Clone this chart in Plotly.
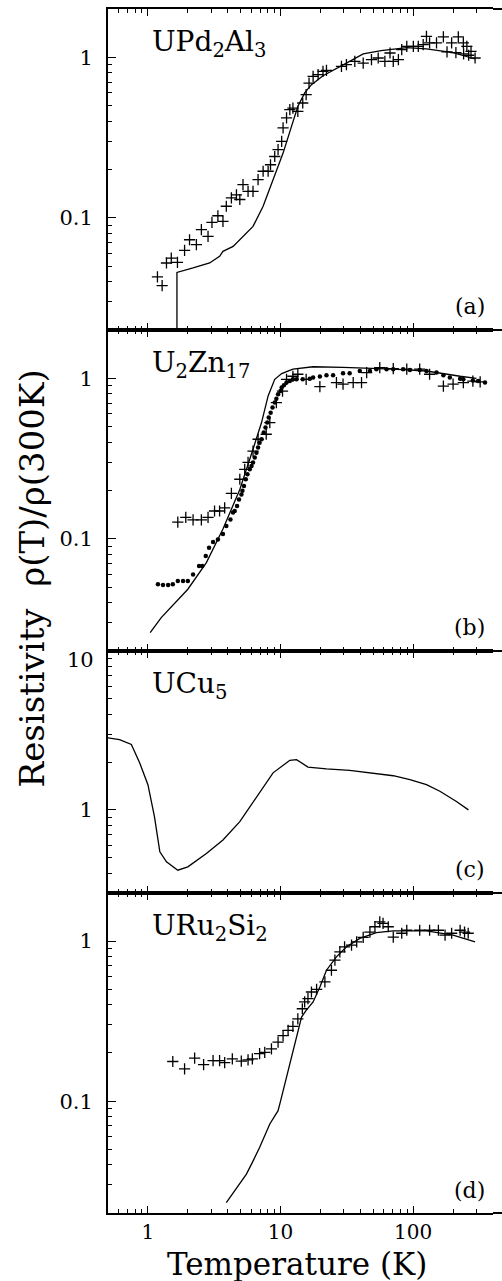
import plotly.graph_objects as go

# ---------------- data ----------------
# (a) UPd2Al3
a_pts_T = [1.18, 1.28, 1.38, 1.50, 1.67, 1.89, 2.06, 2.32, 2.53, 2.84, 3.04, 3.37, 3.68, 3.90, 4.26,
           4.65, 4.93, 5.21, 5.69, 6.20, 6.77, 7.39, 8.06, 8.4, 9.04, 9.58, 10.2, 10.45, 11.1, 11.75,
           12.4, 13.5, 14.7, 15.6, 16.4, 17.6, 19.2, 20.9, 22.2, 28.8, 31.4, 36.3, 42.0, 48.5, 54.5,
           61.2, 66.9, 70.8, 77.4, 82.0, 89.5, 100.3, 109.3, 119, 126, 133, 150, 169, 195, 219,
           239, 254, 273, 293, 180, 210, 240, 262]
a_pts_r = [0.0428, 0.0378, 0.0523, 0.056, 0.0528, 0.0626, 0.073, 0.068, 0.0843, 0.0766, 0.0936, 0.103,
           0.095, 0.118, 0.133, 0.139, 0.13, 0.161, 0.146, 0.146, 0.173, 0.195, 0.195, 0.214, 0.241,
           0.266, 0.299, 0.363, 0.419, 0.472, 0.483, 0.46, 0.519, 0.585, 0.69, 0.76, 0.78, 0.817, 0.83,
           0.877, 0.9, 0.943, 0.921, 0.966, 0.99, 0.943, 1.064, 0.943, 0.966, 1.115, 1.17, 1.17, 1.17,
           1.198, 1.35, 1.23, 1.23, 1.34, 1.23, 1.34, 1.23, 1.17, 1.09, 0.99, 1.08, 1.07, 1.05, 1.03]
a_fit_T = [1.655, 1.655, 2.19, 2.92, 3.47, 3.68, 4.39, 5.21, 6.20, 7.39, 8.78, 10.45, 12.1, 13.5, 15.2,
           17.1, 20.9, 26.4, 33.2, 42.0, 57.3, 89.5, 126, 200, 293]
a_fit_r = [0.019, 0.0457, 0.0487, 0.0523, 0.0575, 0.0618, 0.0664, 0.0766, 0.0884, 0.118, 0.173, 0.253,
           0.371, 0.494, 0.60, 0.675, 0.768, 0.857, 0.943, 1.05, 1.10, 1.15, 1.13, 1.07, 0.976]

# (b) U2Zn17
b_pts_T = [1.68, 1.93, 2.19, 2.53, 2.84, 3.18, 3.47, 3.79, 4.26, 4.93, 5.37, 5.69, 6.2, 6.77, 7.8, 8.3,
           9.3, 10.35, 11.1, 12.4, 13.5, 15.6, 19.8, 26.4, 29.6, 35.3, 40.8, 44.6, 56.0, 70.8, 89.5,
           112, 133, 169, 200, 239, 282, 320]
b_pts_r = [0.127, 0.136, 0.131, 0.131, 0.136, 0.149, 0.149, 0.156, 0.192, 0.235, 0.271, 0.299, 0.352,
           0.417, 0.448, 0.53, 0.706, 0.833, 0.986, 1.03, 1.06, 0.986, 0.888, 0.94, 0.92, 0.94, 0.94,
           1.085, 1.166, 1.15, 1.14, 1.14, 1.06, 0.895, 0.92, 0.94, 0.96, 0.95]
b_dots_T = [1.19, 1.30, 1.42, 1.54, 1.68, 1.84, 2.0, 2.19, 2.43, 2.57, 2.73, 2.89, 3.1, 3.37, 3.68,
            3.9, 4.19, 4.38, 4.51, 4.70, 4.86, 5.07, 5.16, 5.30, 5.47, 5.63, 5.86, 6.04, 6.2, 6.39,
            6.58, 6.77, 6.95, 7.19, 7.47, 7.70, 7.94, 8.14, 8.42, 8.7, 9.04, 9.3, 9.58, 10.0, 10.2,
            10.6, 11.1, 11.75, 12.4, 13.2, 14.7, 16.6, 17.6, 19.8, 22.2, 24.9, 29.6, 33.2, 39.6, 47.2,
            52.8, 63.0, 70.8, 84.1, 94.5, 112, 126, 150, 169, 189, 226, 239, 282, 309, 348]
b_dots_r = [0.052, 0.0515, 0.0515, 0.052, 0.0546, 0.0546, 0.0546, 0.060, 0.0677, 0.0677, 0.078, 0.088,
            0.0955, 0.099, 0.107, 0.120, 0.132, 0.146, 0.149, 0.160, 0.176, 0.189, 0.199, 0.213, 0.235,
            0.252, 0.271, 0.284, 0.299, 0.321, 0.344, 0.370, 0.397, 0.417, 0.459, 0.493, 0.53, 0.569,
            0.611, 0.657, 0.706, 0.747, 0.795, 0.834, 0.875, 0.905, 0.94, 0.962, 0.986, 0.986, 0.986,
            0.995, 1.01, 1.025, 1.045, 1.044, 1.074, 1.074, 1.11, 1.11, 1.14, 1.14, 1.14, 1.14, 1.125,
            1.126, 1.11, 1.085, 1.045, 1.01, 0.995, 0.986, 0.97, 0.962, 0.94]
b_fit_T = [1.04, 1.26, 2.0, 2.76, 3.68, 4.93, 6.2, 7.19, 8.06, 9.04, 10.2, 12.4, 17.6, 29.6, 70.8, 126,
           226, 300]
b_fit_r = [0.026, 0.0323, 0.0485, 0.0711, 0.115, 0.203, 0.361, 0.53, 0.776, 0.986, 1.07, 1.14, 1.18,
           1.17, 1.14, 1.11, 1.03, 1.0]

# (c) UCu5
c_fit_T = [0.494, 0.611, 0.75, 0.866, 1.0, 1.12, 1.23, 1.38, 1.68, 2.0, 2.76, 3.68, 4.93, 6.58, 8.78,
           11.75, 13.2, 16.1, 22.2, 33.2, 50, 70.8, 94.5, 126, 159, 212, 261]
c_fit_r = [2.84, 2.77, 2.58, 1.98, 1.44, 0.907, 0.545, 0.471, 0.417, 0.438, 0.532, 0.646, 0.843, 1.21,
           1.71, 2.05, 2.07, 1.86, 1.81, 1.77, 1.69, 1.64, 1.55, 1.44, 1.31, 1.13, 1.0]

# (d) URu2Si2
d_pts_T = [1.54, 1.89, 2.25, 2.63, 3.1, 3.47, 3.79, 4.33, 5.06, 5.69, 6.13, 6.95, 7.6, 8.54, 9.58,
           10.45, 11.4, 12.4, 13.5, 14.6, 15.2, 16.1, 17.1, 18.7, 21.6, 24.2, 25.7, 28.0, 30.4, 34.3,
           37.5, 42, 47.2, 51.5, 56.0, 59.3, 64.9, 70.8, 82, 89.5, 112, 133, 155, 174, 195, 226, 244, 260]
d_pts_r = [0.177, 0.159, 0.186, 0.169, 0.179, 0.179, 0.174, 0.184, 0.178, 0.181, 0.184, 0.198, 0.202,
           0.212, 0.234, 0.257, 0.277, 0.293, 0.327, 0.378, 0.417, 0.437, 0.481, 0.50, 0.556, 0.658,
           0.76, 0.857, 0.921, 0.944, 0.99, 1.055, 1.14, 1.23, 1.32, 1.29, 1.23, 1.06, 1.12, 1.17, 1.17,
           1.17, 1.17, 1.09, 1.12, 1.17, 1.14, 1.12]
d_fit_T = [3.9, 4.65, 5.53, 6.04, 6.95, 8.3, 9.58, 10, 11.1, 12.4, 13.5, 14.4, 15.6, 17.6, 19.8, 22.2,
           26.4, 31.4, 39.6, 52.8, 70.8, 126, 200, 293]
d_fit_r = [0.0232, 0.0288, 0.035, 0.0404, 0.0513, 0.072, 0.0872, 0.1, 0.141, 0.207, 0.277, 0.335,
           0.369, 0.417, 0.517, 0.658, 0.797, 0.921, 1.04, 1.13, 1.16, 1.16, 1.09, 0.99]

panel_names = ["UPd<sub>2</sub>Al<sub>3</sub>", "U<sub>2</sub>Zn<sub>17</sub>",
               "UCu<sub>5</sub>", "URu<sub>2</sub>Si<sub>2</sub>"]
panel_tags = ["(a)", "(b)", "(c)", "(d)"]
x_ticks = [1, 10, 100]
x_ticktext = ["1", "10", "100"]
x_minor = [0.6, 0.7, 0.8, 0.9, 2, 3, 4, 5, 6, 7, 8, 9, 20, 30, 40, 50, 60, 70, 80, 90, 200, 300]
y_ticks_std = [0.1, 1]
y_text_std = ["0.1", "1"]
y_minor_std = [0.02, 0.03, 0.04, 0.05, 0.06, 0.07, 0.08, 0.09, 0.2, 0.3, 0.4, 0.5, 0.6, 0.7, 0.8, 0.9, 2]
y_ticks_c = [1, 10]
y_text_c = ["1", ""]          # the "10" label is set slightly lower, below the frame line
y_top_label_c = "10"
y_minor_c = [0.3, 0.4, 0.5, 0.6, 0.7, 0.8, 0.9, 2, 3, 4, 5, 6, 7, 8, 9]

# ---------------- layout geometry ----------------
W, H = 502, 1281
ML, MR, MT, MB = 108, 9, 9, 68
domains = [[0.7334, 1.0], [0.4668, 0.7334], [0.2658, 0.4668], [0.0, 0.2658]]
yranges = [[-1.699, 0.301], [-1.699, 0.301], [-0.523, 1.0], [-1.699, 0.301]]
xrange_log = [-0.301, 2.602]
FONT = "DejaVu Serif"
PLOT_H = H - MT - MB
PLOT_W = W - ML - MR

fig = go.Figure()

def sfx(i):
    return "" if i == 0 else str(i + 1)

def add_line(i, T, r):
    fig.add_trace(go.Scatter(x=T, y=r, mode="lines", line=dict(color="black", width=1.3),
                             xaxis="x" + sfx(i), yaxis="y" + sfx(i), hoverinfo="skip"))

def add_cross(i, T, r):
    fig.add_trace(go.Scatter(x=T, y=r, mode="markers",
                             marker=dict(symbol="cross-thin", size=8, color="black",
                                         line=dict(color="black", width=1.3)),
                             xaxis="x" + sfx(i), yaxis="y" + sfx(i), hoverinfo="skip"))

def add_dots(i, T, r):
    fig.add_trace(go.Scatter(x=T, y=r, mode="markers",
                             marker=dict(symbol="circle", size=4.5, color="black"),
                             xaxis="x" + sfx(i), yaxis="y" + sfx(i), hoverinfo="skip"))

add_cross(0, a_pts_T, a_pts_r)
add_line(0, a_fit_T, a_fit_r)
add_cross(1, b_pts_T, b_pts_r)
add_dots(1, b_dots_T, b_dots_r)
add_line(1, b_fit_T, b_fit_r)
add_line(2, c_fit_T, c_fit_r)
add_cross(3, d_pts_T, d_pts_r)
add_line(3, d_fit_T, d_fit_r)

layout = dict(
    template="none",
    width=W, height=H, margin=dict(l=ML, r=MR, t=MT, b=MB, autoexpand=False),
    paper_bgcolor="white", plot_bgcolor="white", showlegend=False,
    font=dict(family=FONT, color="black", size=21),
)

for i in range(4):
    s = sfx(i)
    last = (i == 3)
    layout["xaxis" + s] = dict(
        type="log", range=xrange_log, domain=[0, 1], anchor="y" + s, automargin=False,
        showline=True, linecolor="black", linewidth=2, mirror="ticks",
        ticks="inside", ticklen=7, tickwidth=1.3, tickcolor="black",
        tickvals=x_ticks, ticktext=x_ticktext, showticklabels=last,
        ticklabelstandoff=0,
        tickfont=dict(family=FONT, size=20, color="black"),
        minor=dict(tickvals=x_minor, ticks="inside", ticklen=4, tickwidth=1.2,
                   tickcolor="black", showgrid=False),
        showgrid=False, zeroline=False,
    )
    tv, tt, mv = (y_ticks_c, y_text_c, y_minor_c) if i == 2 else (y_ticks_std, y_text_std, y_minor_std)
    layout["yaxis" + s] = dict(
        type="log", range=yranges[i], domain=domains[i], anchor="x" + s, automargin=False,
        showline=True, linecolor="black", linewidth=2, mirror=False,
        ticks="inside", ticklen=8, tickwidth=1.3, tickcolor="black",
        tickvals=tv, ticktext=tt, ticklabelstandoff=9,
        tickfont=dict(family=FONT, size=21, color="black"),
        minor=dict(tickvals=mv, ticks="inside", ticklen=4, tickwidth=1.2,
                   tickcolor="black", showgrid=False),
        showgrid=False, zeroline=False,
    )
    # right-hand tick marks without a spine
    layout["yaxis" + str(5 + i)] = dict(
        type="log", range=yranges[i], overlaying="y" + s, side="right", anchor="x" + s,
        automargin=False,
        showline=False, ticks="inside", ticklen=4, tickwidth=1.0, tickcolor="#333",
        tickvals=tv, showticklabels=False,
        minor=dict(tickvals=mv, ticks="inside", ticklen=2.5, tickwidth=1.0,
                   tickcolor="#555", showgrid=False),
        showgrid=False, zeroline=False,
    )

annotations = []
for i in range(4):
    s = sfx(i)
    dom_px = (domains[i][1] - domains[i][0]) * PLOT_H
    annotations.append(dict(text=panel_names[i], xref="x" + s + " domain", yref="y" + s + " domain",
                            x=0.108, y=1 - 14 / dom_px,
                            xanchor="left", yanchor="top", showarrow=False,
                            font=dict(family=FONT, size=28, color="black")))
    annotations.append(dict(text=panel_tags[i], xref="x" + s + " domain", yref="y" + s + " domain",
                            x=0.985, y=23 / dom_px,
                            xanchor="right", yanchor="middle", showarrow=False,
                            font=dict(family=FONT, size=22, color="black")))

# "10" on panel (c), sitting just under the frame line as in the original
dom_c = (domains[2][1] - domains[2][0]) * PLOT_H
annotations.append(dict(text=y_top_label_c, xref="x3 domain", yref="y3 domain",
                        x=-12 / PLOT_W, y=1 - 9 / dom_c, xanchor="right", yanchor="middle",
                        showarrow=False, font=dict(family=FONT, size=21, color="black")))

annotations.append(dict(text="Temperature (K)", xref="paper", yref="paper", x=0.49, y=-0.0425,
                        xanchor="center", yanchor="middle", showarrow=False,
                        font=dict(family=FONT, size=31, color="black")))
annotations.append(dict(text="Resistivity\u00a0\u00a0\u03c1(T)/\u03c1(300K)", xref="paper", yref="paper",
                        x=-0.195, y=0.527, textangle=-90,
                        xanchor="center", yanchor="middle", showarrow=False,
                        font=dict(family=FONT, size=34, color="black")))
layout["annotations"] = annotations

# horizontal frame lines run slightly past the right tick column
shapes = []
for yv in [1.0, 0.7334, 0.4668, 0.2658, 0.0]:
    shapes.append(dict(type="line", xref="paper", yref="paper", x0=1.0, x1=1.025, y0=yv, y1=yv,
                       line=dict(color="black", width=2)))
layout["shapes"] = shapes

fig.update_layout(**layout)
fig.write_html("out.html")
